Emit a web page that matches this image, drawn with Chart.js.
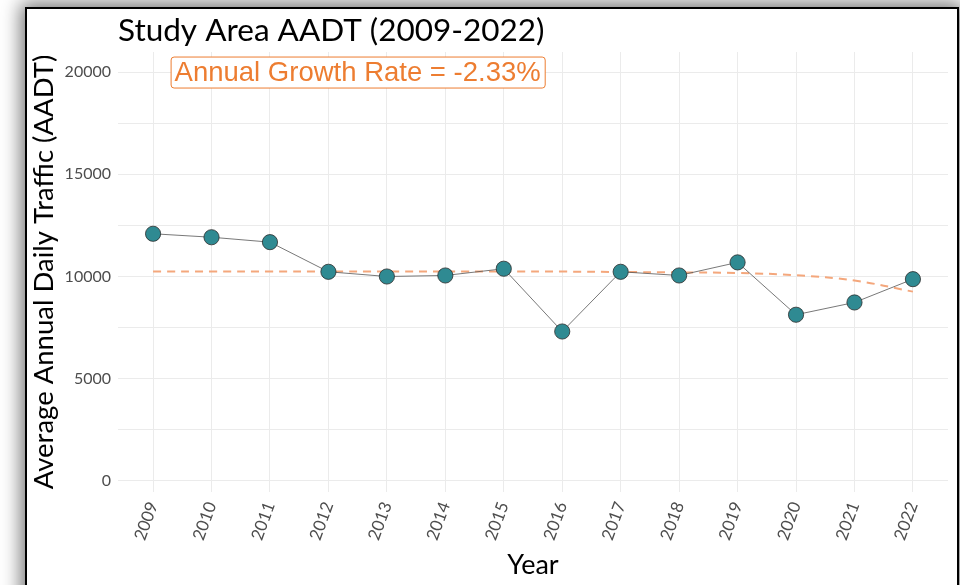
<!DOCTYPE html>
<html>
<head>
<meta charset="utf-8">
<script src="https://cdn.jsdelivr.net/npm/chart.js@4.4.1/dist/chart.umd.min.js"></script>
<style>
  html, body { margin: 0; padding: 0; background: #ffffff; overflow: hidden; }
  #wrap { position: relative; width: 960px; height: 585px; overflow: hidden; background: #ffffff; }
  #frame { position: absolute; left: 25px; top: 7px; width: 930px; height: 640px;
           border: 2px solid #000; background: #fff; box-shadow: 0 0 18px 4px rgba(0,0,0,0.55); }
  #chart { position: absolute; left: 0; top: 0; }
</style>
</head>
<body>
<div id="wrap">
  <div id="frame"></div>
  <canvas id="chart" width="960" height="585"></canvas>
</div>
<script>
const years = [2009, 2010, 2011, 2012, 2013, 2014, 2015, 2016, 2017, 2018, 2019, 2020, 2021, 2022];
const aadt = [12090, 11920, 11680, 10230, 10000, 10050, 10380, 7310, 10230, 10050, 10690, 8130, 8730, 9870];
const trend = [10240, 10240, 10240, 10240, 10240, 10240, 10240, 10240, 10220, 10200, 10170, 10060, 9800, 9260];
const yTicks = [0, 5000, 10000, 15000, 20000];
const titleText = 'Study Area AADT (2009-2022)';
const noteText = 'Annual Growth Rate = -2.33%';
const xTitle = 'Year';
const yTitle = 'Average Annual Daily Traffic (AADT)';

const FONT_C = 'Lato, "Open Sans", sans-serif';
const FONT_A = '"Liberation Sans", Arial, sans-serif';

const decor = {
  id: 'decor',
  afterDraw(chart) {
    const ctx = chart.ctx;
    const xs = chart.scales.x, ys = chart.scales.y;
    ctx.save();
    // title
    ctx.fillStyle = '#000';
    ctx.font = '31.5px ' + FONT_C;
    ctx.textBaseline = 'middle';
    ctx.textAlign = 'left';
    ctx.fillText(titleText, 118, 31);
    // annotation label
    const cx = xs.getPixelForValue(2012.5), cy = ys.getPixelForValue(20000);
    ctx.font = '27.5px ' + FONT_A;
    const w = ctx.measureText(noteText).width;
    const bw = w + 8, bh = 31;
    const bx = cx - bw / 2, by = cy - bh / 2;
    ctx.fillStyle = '#fff';
    ctx.strokeStyle = '#ED7D31';
    ctx.lineWidth = 1;
    ctx.beginPath();
    ctx.roundRect(bx + 0.5, by + 0.5, bw, bh, 3);
    ctx.fill();
    ctx.stroke();
    ctx.fillStyle = '#ED7D31';
    ctx.textAlign = 'center';
    ctx.fillText(noteText, cx, cy + 1);
    ctx.restore();
  }
};

new Chart(document.getElementById('chart'), {
  type: 'scatter',
  data: {
    datasets: [
      {
        label: 'Trend',
        data: years.map((y, i) => ({x: y, y: trend[i]})),
        showLine: true,
        borderColor: '#F4A77C',
        borderWidth: 2,
        borderDash: [8, 6],
        pointRadius: 0,
        tension: 0.4,
        order: 2
      },
      {
        label: 'AADT',
        data: years.map((y, i) => ({x: y, y: aadt[i]})),
        showLine: true,
        borderColor: '#555555',
        borderWidth: 0.8,
        pointRadius: 7.6,
        pointBackgroundColor: '#2F8A92',
        pointBorderColor: '#2b2b2b',
        pointBorderWidth: 0.8,
        order: 1
      }
    ]
  },
  options: {
    responsive: false,
    animation: false,
    layout: { padding: { left: 0, right: 12, top: 52, bottom: 0 } },
    plugins: { legend: { display: false }, tooltip: { enabled: false }, title: { display: false } },
    scales: {
      x: {
        type: 'linear',
        min: 2008.4,
        max: 2022.6,
        afterBuildTicks: (s) => { s.ticks = years.map(v => ({ value: v })); },
        afterFit: (s) => { s.height = 93; },
        border: { display: false },
        grid: { color: '#EBEBEB', lineWidth: 1, drawTicks: false },
        ticks: {
          autoSkip: false,
          minRotation: 70,
          maxRotation: 70,
          padding: 7,
          color: '#4D4D4D',
          font: { family: FONT_C, size: 17 },
          callback: (v) => String(v)
        },
        title: {
          display: true,
          text: xTitle,
          color: '#000',
          font: { family: FONT_C, size: 27 },
          padding: { top: 0, bottom: 4 }
        }
      },
      y: {
        min: -540,
        max: 20980,
        afterBuildTicks: (s) => {
          const t = [];
          for (let v = 0; v <= 20000; v += 2500) t.push({ value: v });
          s.ticks = t;
        },
        afterFit: (s) => { s.width = 118; },
        border: { display: false },
        grid: { color: '#EBEBEB', lineWidth: 1, drawTicks: false },
        ticks: {
          autoSkip: false,
          padding: 7,
          color: '#4D4D4D',
          font: { family: FONT_C, size: 16 },
          callback: (v) => yTicks.includes(v) ? String(v) : ''
        },
        title: {
          display: true,
          text: yTitle,
          color: '#000',
          font: { family: FONT_C, size: 27.5 },
          padding: { top: 28, bottom: 0 }
        }
      }
    }
  },
  plugins: [decor]
});
</script>
</body>
</html>
